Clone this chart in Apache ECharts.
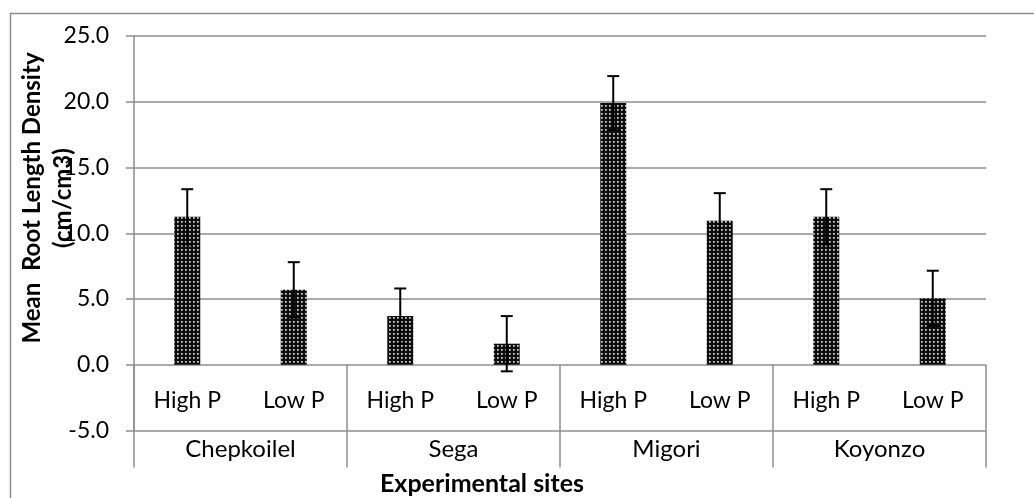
<!DOCTYPE html>
<html>
<head>
<meta charset="utf-8">
<script src="https://cdn.jsdelivr.net/npm/echarts@6/dist/echarts.min.js"></script>
<style>
html,body{margin:0;padding:0;background:#fff;}
#chart{width:1034px;height:498px;}
</style>
</head>
<body>
<div id="chart"></div>
<script>
// ---- data ----
var sites = ['Chepkoilel', 'Sega', 'Migori', 'Koyonzo'];
var treatments = ['High P', 'Low P'];
var highP = [11.25, 3.7, 19.9, 11.25];
var lowP = [5.7, 1.6, 10.95, 5.05];
var highErr = [2.1, 2.1, 2.05, 2.1];
var lowErr = [2.1, 2.1, 2.1, 2.1];
var yTicks = [-5, 0, 5, 10, 15, 20, 25];
var yTitle = 'Mean  Root Length Density\n(cm/cm3)';
var xTitle = 'Experimental sites';

// ---- build series ----
var cats = [], vals = [], errs = [];
sites.forEach(function (s, i) {
  cats.push(s + '|' + treatments[0]); vals.push(highP[i]); errs.push(highErr[i]);
  cats.push(s + '|' + treatments[1]); vals.push(lowP[i]); errs.push(lowErr[i]);
});
var errData = vals.map(function (v, i) { return [i, v - errs[i], v + errs[i]]; });

// dotted fill pattern
var pc = document.createElement('canvas');
pc.width = 4; pc.height = 4;
var g = pc.getContext('2d');
g.fillStyle = '#0e0e0e'; g.fillRect(0, 0, 4, 4);
g.fillStyle = '#8a8a8a'; g.fillRect(1, 1, 2, 2);
g.fillStyle = '#e6e6e6'; g.fillRect(1, 1, 1, 1);

var FONT = 'Lato';
var GRID = '#8e8e8e';

var chart = echarts.init(document.getElementById('chart'), null, {renderer: 'canvas'});
chart.setOption({
  animation: false,
  backgroundColor: '#fff',
  grid: {left: 134, right: 48, top: 36, bottom: 67.5, containLabel: false},
  xAxis: [{
    type: 'category',
    data: cats,
    position: 'bottom',
    axisLine: {show: false, onZero: false},
    axisTick: {show: false},
    axisLabel: {
      interval: 0, margin: -30, verticalAlign: 'middle',
      fontFamily: FONT, fontSize: 23, color: '#000',
      formatter: function (v) { return v.split('|')[1]; }
    },
    splitLine: {show: false}
  }, {
    type: 'category',
    data: sites,
    position: 'bottom',
    axisLine: {show: false, onZero: false},
    axisTick: {show: true, interval: 0, length: 37, lineStyle: {color: GRID, width: 1.5}},
    axisLabel: {interval: 0, margin: 19, verticalAlign: 'middle', fontFamily: FONT, fontSize: 24, color: '#000'}
  }, {
    type: 'category',
    data: sites,
    position: 'bottom',
    axisLine: {show: false, onZero: false},
    axisTick: {show: true, inside: true, interval: 0, length: 65.8, lineStyle: {color: GRID, width: 1.5}},
    axisLabel: {show: false}
  }],
  yAxis: {
    type: 'value',
    min: yTicks[0], max: yTicks[yTicks.length - 1], interval: 5,
    axisLine: {show: true, lineStyle: {color: GRID, width: 1.5}},
    axisTick: {show: true, inside: false, length: 8, lineStyle: {color: GRID, width: 1.5}},
    axisLabel: {margin: 25, fontFamily: FONT, fontSize: 23, color: '#000',
      formatter: function (v) { return v.toFixed(1); }},
    splitLine: {show: true, lineStyle: {color: GRID, width: 1.5}}
  },
  series: [{
    type: 'bar',
    xAxisIndex: 0,
    data: vals,
    barWidth: 26,
    itemStyle: {color: {image: pc, repeat: 'repeat'}}
  }, {
    type: 'custom',
    xAxisIndex: 0,
    z: 5,
    data: errData,
    encode: {x: 0, y: [1, 2]},
    renderItem: function (params, api) {
      var x = api.value(0);
      var lo = api.coord([x, api.value(1)]);
      var hi = api.coord([x, api.value(2)]);
      var h = 6;
      var st = {stroke: '#000', lineWidth: 2};
      return {type: 'group', children: [
        {type: 'line', shape: {x1: hi[0], y1: hi[1], x2: lo[0], y2: lo[1]}, style: st},
        {type: 'line', shape: {x1: hi[0] - h, y1: hi[1], x2: hi[0] + h, y2: hi[1]}, style: st},
        {type: 'line', shape: {x1: lo[0] - h, y1: lo[1], x2: lo[0] + h, y2: lo[1]}, style: st}
      ]};
    }
  }],
  graphic: [
    {type: 'rect', left: 8, top: 11, shape: {x: 0, y: 0, width: 1100, height: 600},
      style: {fill: 'none', stroke: GRID, lineWidth: 1.5}, silent: true},
    {type: 'text', x: 48, y: 198, rotation: Math.PI / 2,
      style: {text: yTitle, fontFamily: FONT, fontWeight: 'bold', fontSize: 24, lineHeight: 31,
        fill: '#000', align: 'center', verticalAlign: 'middle'}},
    {type: 'text', x: 482, y: 484,
      style: {text: xTitle, fontFamily: FONT, fontWeight: 'bold', fontSize: 25,
        fill: '#000', align: 'center', verticalAlign: 'middle'}}
  ]
});
</script>
</body>
</html>
